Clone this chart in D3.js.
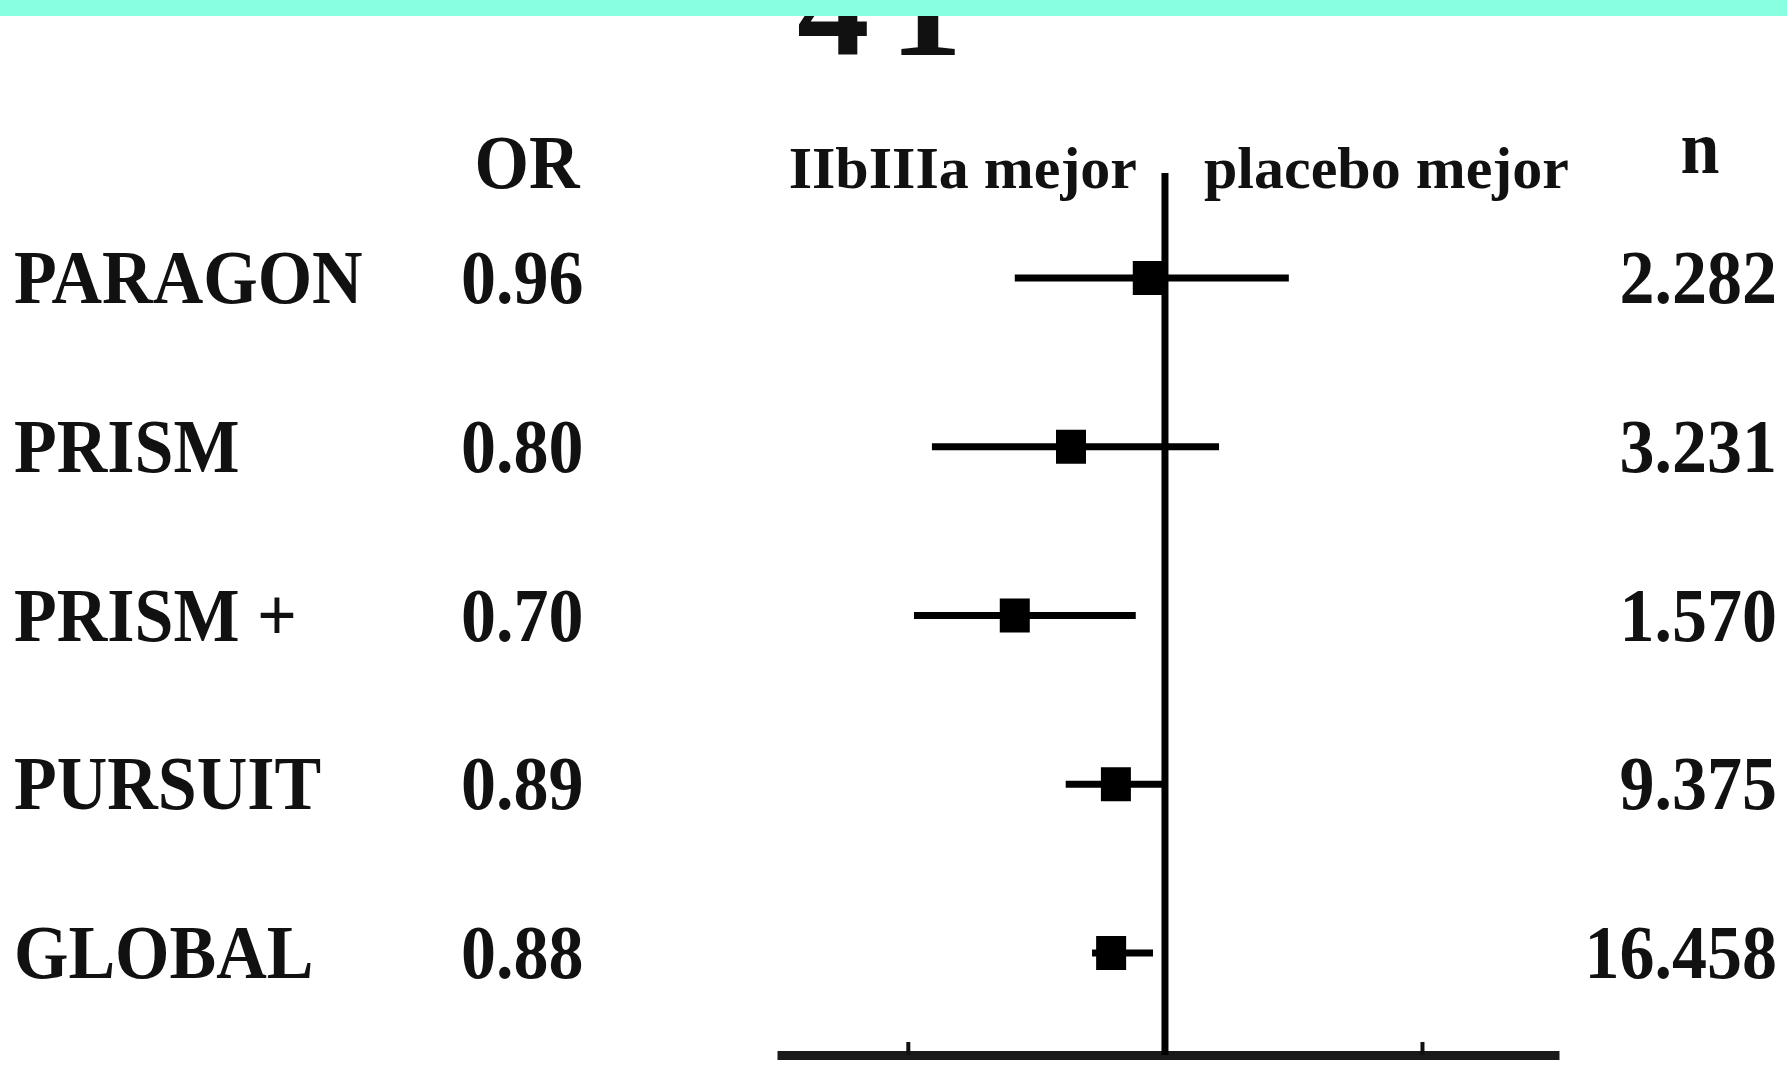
<!DOCTYPE html>
<html>
<head>
<meta charset="utf-8">
<script src="https://cdn.jsdelivr.net/npm/d3@7/dist/d3.min.js"></script>
<style>
  html, body { margin: 0; padding: 0; background: #fff; }
  svg { display: block; }
  text { font-family: "Liberation Serif", "Times New Roman", serif; font-weight: bold; fill: #111; }
</style>
</head>
<body>
<script>
// Trials and their odds ratios (IIb/IIIa vs placebo)
const studies   = ["PARAGON", "PRISM", "PRISM +", "PURSUIT", "GLOBAL"];
const orValues  = [0.96, 0.80, 0.70, 0.89, 0.88];
const orLabels  = ["0.96", "0.80", "0.70", "0.89", "0.88"];
const ciLow     = [0.700, 0.575, 0.551, 0.790, 0.841];
const ciHigh    = [1.342, 1.137, 0.933, 0.993, 0.972];
const nLabels   = ["2.282", "3.231", "1.570", "9.375", "16.458"];
const axisTicks = [0.543, 1.841];
const sideLabels = ["IIbIIIa mejor", "placebo mejor"];

const W = 1787, H = 1067;
const svg = d3.select("body").append("svg").attr("width", W).attr("height", H);

const x = d3.scaleLog().domain([0.398, 2.549]).range([777, 1559]);
const y = d3.scalePoint().domain(studies).range([278, 953]);
const axisY = 1055;

// Large heading, partly hidden under the top banner
svg.append("text").attr("x", 797).attr("y", 55)
  .style("font-size", "145px").style("letter-spacing", "-8px")
  .text("4 1");
svg.append("rect").attr("x", 0).attr("y", 0).attr("width", W).attr("height", 16)
  .attr("fill", "#87ffe0");

// Column headers
const stretch = "scale(1,1.08)";
svg.append("text").attr("transform", `translate(527,188) ${stretch}`)
  .attr("text-anchor", "middle").style("font-size", "70px").text("OR");
svg.append("text").attr("transform", `translate(1700,173) ${stretch}`)
  .attr("text-anchor", "middle").style("font-size", "70px").text("n");
svg.append("text").attr("transform", `translate(1137,188)`)
  .attr("text-anchor", "end").style("font-size", "60px").text(sideLabels[0]);
svg.append("text").attr("transform", `translate(1204,188)`)
  .attr("text-anchor", "start").style("font-size", "60px").text(sideLabels[1]);

// Row text: study, OR, n
const rows = svg.append("g");
studies.forEach((s, i) => {
  const base = y(s) + 25;
  rows.append("text").attr("transform", `translate(14,${base}) ${stretch}`)
    .style("font-size", "70px")
    .text(s);
  rows.append("text").attr("transform", `translate(461,${base}) ${stretch}`)
    .style("font-size", "70px").text(orLabels[i]);
  rows.append("text").attr("transform", `translate(1777,${base}) ${stretch}`)
    .attr("text-anchor", "end").style("font-size", "70px").text(nLabels[i]);
});

// Bottom axis with two unlabeled ticks
const axis = d3.axisBottom(x).tickValues(axisTicks).tickSize(-13).tickSizeOuter(0).tickFormat("");
const ax = svg.append("g").attr("transform", `translate(0,${axisY})`).call(axis);
ax.select(".domain").attr("stroke", "#1a1a1a").attr("stroke-width", 9);
ax.selectAll(".tick line").attr("stroke", "#111").attr("stroke-width", 4);

// Line of no effect (OR = 1)
svg.append("line")
  .attr("x1", x(1)).attr("x2", x(1))
  .attr("y1", 173).attr("y2", axisY)
  .attr("stroke", "#000").attr("stroke-width", 7);

// Confidence intervals and point estimates
const marks = svg.append("g");
studies.forEach((s, i) => {
  marks.append("line")
    .attr("x1", x(ciLow[i])).attr("x2", x(ciHigh[i]))
    .attr("y1", y(s)).attr("y2", y(s))
    .attr("stroke", "#000").attr("stroke-width", 7);
  marks.append("rect")
    .attr("x", x(orValues[i]) - 15).attr("y", y(s) - 17)
    .attr("width", 30).attr("height", 34)
    .attr("fill", "#000");
});
</script>
</body>
</html>
